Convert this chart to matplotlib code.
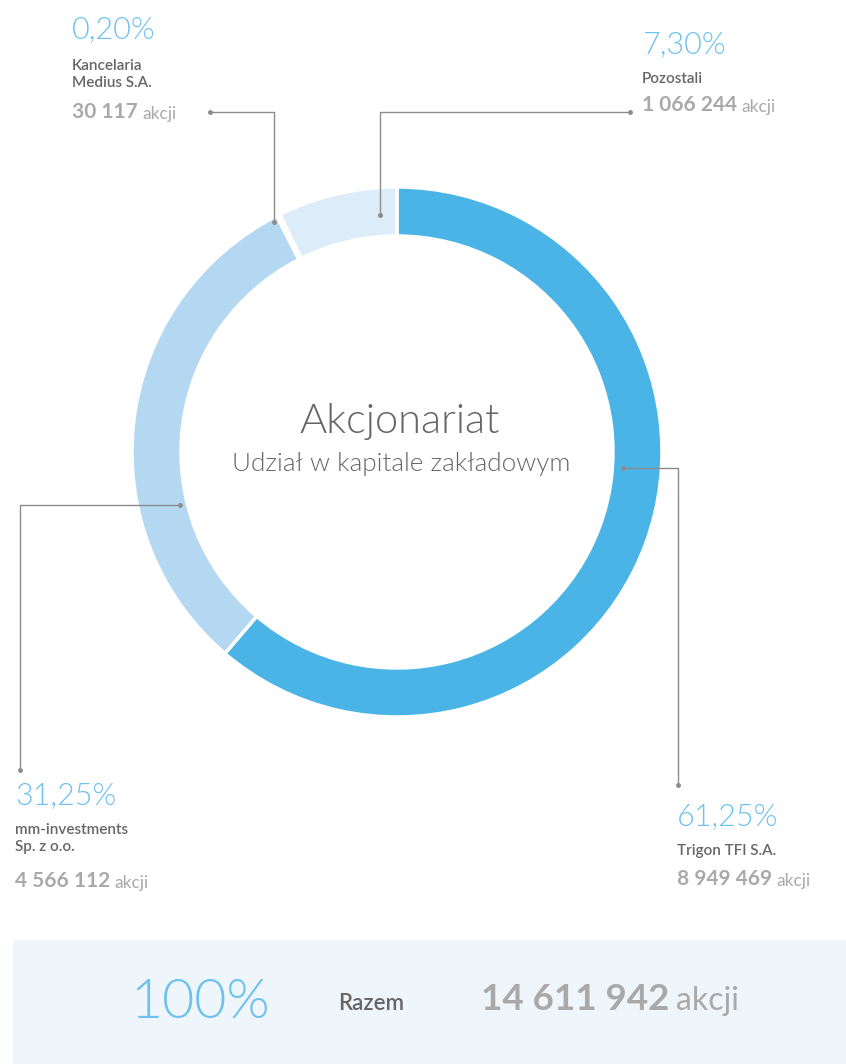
import matplotlib.pyplot as plt

# data
names = ['Trigon TFI S.A.', 'mm-investments\nSp. z o.o.', 'Kancelaria\nMedius S.A.', 'Pozostali']
shares = [61.25, 31.25, 0.20, 7.30]
pct_labels = ['61,25%', '31,25%', '0,20%', '7,30%']
stock = ['8 949 469', '4 566 112', '30 117', '1 066 244']
colors = ['#4ab4e6', '#b4d8f2', '#eaf3fb', '#ddecf9']
total_pct = '100%'
total_stock = '14 611 942'

W, H = 846, 1064
BLUE = '#6cc1ee'
DARK = '#666666'
LIGHT = '#a9a9a9'
LINE = '#8c8c8c'

plt.rcParams['font.family'] = ['Lato', 'DejaVu Sans']

fig = plt.figure(figsize=(W / 100, H / 100), dpi=100)
ax = fig.add_axes([0, 0, 1, 1])

def Y(y):
    return H - y

# donut
cx, cy, R, ring = 397, 452, 265, 49
ax.pie(shares, colors=colors, startangle=90, counterclock=False,
       center=(cx, Y(cy)), radius=R, frame=True,
       wedgeprops=dict(width=ring, edgecolor='white', linewidth=2.5))
ax.set_xlim(0, W)
ax.set_ylim(0, H)
ax.axis('off')

ax.text(cx + 3, Y(433), 'Akcjonariat', ha='center', va='baseline',
        fontsize=30, fontweight=300, color=DARK)
ax.text(cx + 4, Y(471), 'Udział w kapitale zakładowym', ha='center', va='baseline',
        fontsize=18.8, fontweight=300, color=DARK)

# labels: (x, pct baseline, last name line baseline, stock baseline)
label_pos = [(677, 825, 855, 885), (15, 804, 851, 887), (72, 38, 87, 118), (642, 53, 83, 111)]

def stock_text(x, y, num, size_num, size_akcji, gap=4):
    t = ax.text(x, Y(y), num, ha='left', va='baseline', fontsize=size_num,
                fontweight='bold', color=LIGHT)
    ax.annotate('akcji', xy=(1, 0), xycoords=t, xytext=(gap, 0),
                textcoords='offset points', ha='left', va='bottom',
                fontsize=size_akcji, color=LIGHT)

for i in range(4):
    x, yp, yn, ys = label_pos[i]
    ax.text(x, Y(yp), pct_labels[i], ha='left', va='baseline', fontsize=22,
            fontweight=300, color=BLUE)
    ax.text(x, Y(yn), names[i], ha='left', va='baseline', fontsize=11,
            fontweight='semibold', color=DARK, linespacing=1.25)
    stock_text(x, ys, stock[i], 15, 12.5, gap=3)

# leader lines
leaders = [
    [(623, 468), (678, 468), (678, 785)],
    [(180, 505), (20, 505), (20, 770)],
    [(274, 222), (274, 112), (210, 112)],
    [(380, 215), (380, 112), (630, 112)],
]
for pts in leaders:
    xs = [p[0] for p in pts]
    ys = [Y(p[1]) for p in pts]
    ax.plot(xs, ys, color=LINE, lw=1.0, solid_capstyle='butt')
    ax.plot([xs[0], xs[-1]], [ys[0], ys[-1]], 'o', color=LINE, ms=2.5)

# total box
ax.add_patch(plt.Rectangle((13, 0), W - 13, Y(940), color='#eef5fb', lw=0))
ax.text(130, Y(1018), total_pct, ha='left', va='baseline', fontsize=40,
        fontweight=300, color=BLUE)
ax.text(338, Y(1010), 'Razem', ha='left', va='baseline', fontsize=16,
        fontweight='semibold', color=DARK)
stock_text(481, 1010, total_stock, 26.5, 23, gap=5)

fig.savefig('out.png', dpi=100)
